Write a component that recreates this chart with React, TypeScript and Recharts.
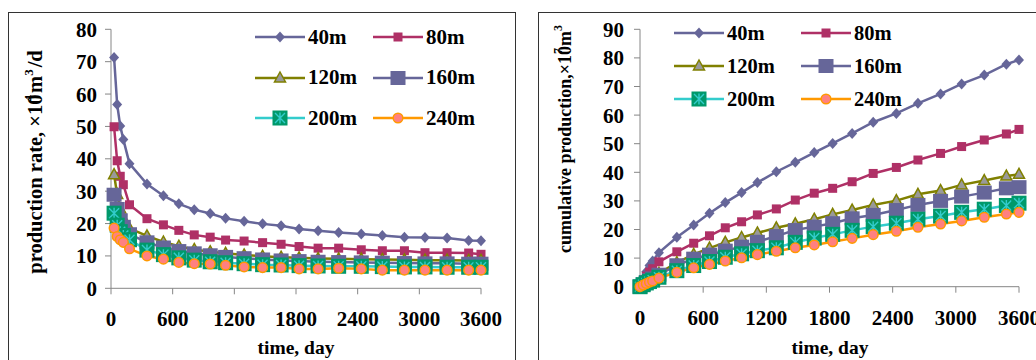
import React from 'react';
import { LineChart, Line, XAxis, YAxis, Legend, Label } from 'recharts';

const FONT = "'Liberation Serif', 'Times New Roman', serif";
const AXIS_GRAY = '#868686';

// time of each rate sample, days
const days = [30, 60, 90, 120, 180, 350, 510, 660, 810, 965, 1115, 1295, 1475, 1655, 1830, 2015, 2215, 2435, 2640, 2855, 3055, 3270, 3480, 3600];
// cumulative curve starts from zero at day 0
const cumDays = [0, 30, 60, 90, 120, 180, 350, 510, 660, 810, 965, 1115, 1295, 1475, 1655, 1830, 2015, 2215, 2435, 2640, 2855, 3055, 3270, 3480, 3600];
const timeTicks = [0, 600, 1200, 1800, 2400, 3000, 3600];
const rateTicks = [0, 10, 20, 30, 40, 50, 60, 70, 80];
const cumTicks = [0, 10, 20, 30, 40, 50, 60, 70, 80, 90];

// production rate, 10^4 m3/d
const rate40 = [71.3, 56.8, 50.1, 46.0, 38.5, 32.2, 28.6, 26.1, 24.3, 23.1, 21.6, 20.7, 19.9, 19.3, 18.3, 17.8, 17.2, 16.8, 16.3, 15.8, 15.7, 15.5, 14.8, 14.7];
const rate80 = [49.9, 39.4, 34.6, 32.0, 25.8, 21.5, 19.6, 17.9, 16.5, 15.8, 14.9, 14.6, 14.1, 13.6, 12.9, 12.4, 12.4, 11.9, 11.6, 11.6, 11.0, 11.0, 10.9, 10.5];
const rate120 = [35.1, 29.0, 24.5, 21.5, 18.5, 16.2, 14.3, 13.0, 12.0, 11.3, 10.8, 10.3, 9.9, 9.6, 9.4, 9.2, 9.1, 9.0, 8.9, 8.8, 8.7, 8.7, 8.6, 8.6];
const rate160 = [28.9, 24.5, 21.0, 19.0, 16.7, 14.2, 12.6, 11.5, 10.8, 10.2, 9.7, 9.3, 8.9, 8.6, 8.4, 8.2, 8.1, 8.0, 7.9, 7.8, 7.7, 7.7, 7.6, 7.6];
const rate200 = [23.2, 19.5, 17.5, 16.3, 15.0, 11.8, 10.4, 9.4, 8.7, 8.2, 7.9, 7.6, 7.3, 7.2, 7.0, 6.9, 6.8, 6.8, 6.7, 6.6, 6.6, 6.5, 6.5, 6.5];
const rate240 = [18.6, 16.0, 15.0, 14.2, 12.2, 10.0, 9.0, 8.0, 7.6, 7.5, 7.1, 6.6, 6.4, 6.4, 6.0, 6.0, 6.2, 6.0, 5.6, 5.6, 5.6, 5.6, 5.6, 5.6];

// cumulative production, 10^7 m3
const cum40 = [0, 2.8, 5.2, 7.4, 9.0, 11.9, 17.3, 21.6, 25.7, 29.4, 32.9, 36.4, 40.2, 43.5, 46.9, 50.1, 53.6, 57.5, 60.6, 64.1, 67.4, 70.9, 74.0, 77.8, 79.3];
const cum80 = [0, 2.0, 3.7, 5.1, 6.3, 8.7, 12.2, 15.2, 17.8, 20.6, 22.7, 25.1, 27.2, 30.3, 32.7, 34.4, 36.7, 39.6, 41.7, 44.3, 46.6, 49.0, 51.3, 53.4, 55.0];
const cum120 = [0, 1.0, 1.9, 2.6, 3.3, 4.7, 8.4, 11.3, 13.5, 15.5, 17.2, 18.8, 20.6, 22.0, 23.6, 25.3, 26.8, 28.6, 30.1, 32.3, 33.6, 35.6, 37.1, 38.7, 39.3];
const cum160 = [0, 0.8, 1.6, 2.3, 2.9, 4.2, 7.5, 9.8, 11.2, 12.6, 14.0, 15.7, 17.7, 19.8, 21.0, 22.2, 23.9, 25.1, 26.8, 28.6, 30.0, 31.5, 32.9, 34.4, 34.8];
const cum200 = [0, 0.7, 1.3, 1.8, 2.3, 3.3, 5.6, 7.4, 8.8, 10.3, 11.5, 12.6, 13.6, 15.5, 17.0, 18.3, 19.7, 21.0, 22.2, 23.6, 24.7, 26.0, 27.1, 28.4, 29.2];
const cum240 = [0, 0.6, 1.1, 1.6, 2.0, 3.0, 5.0, 6.6, 7.8, 9.0, 10.1, 11.2, 12.4, 13.6, 14.6, 15.7, 16.9, 18.2, 19.4, 20.8, 21.9, 23.0, 24.3, 25.4, 26.0];

type Shape = 'diamond' | 'square' | 'triangle' | 'bigSquare' | 'star' | 'circle';

const series: { key: string; name: string; color: string; shape: Shape }[] = [
  { key: 's40', name: '40m', color: '#666699', shape: 'diamond' },
  { key: 's80', name: '80m', color: '#AF3066', shape: 'square' },
  { key: 's120', name: '120m', color: '#808000', shape: 'triangle' },
  { key: 's160', name: '160m', color: '#666699', shape: 'bigSquare' },
  { key: 's200', name: '200m', color: '#33CCCC', shape: 'star' },
  { key: 's240', name: '240m', color: '#FF9900', shape: 'circle' },
];

const rateData = days.map((day, i) => ({
  day,
  s40: rate40[i],
  s80: rate80[i],
  s120: rate120[i],
  s160: rate160[i],
  s200: rate200[i],
  s240: rate240[i],
}));

const cumData = cumDays.map((day, i) => ({
  day,
  s40: cum40[i],
  s80: cum80[i],
  s120: cum120[i],
  s160: cum160[i],
  s200: cum200[i],
  s240: cum240[i],
}));

function Marker({ shape, x, y }: { shape: Shape; x: number; y: number }) {
  switch (shape) {
    case 'diamond':
      return <polygon points={`${x},${y - 5.5} ${x + 5},${y} ${x},${y + 5.5} ${x - 5},${y}`} fill="#666699" />;
    case 'square':
      return <rect x={x - 4.5} y={y - 4.5} width={9} height={9} fill="#AF3066" />;
    case 'triangle':
      return (
        <polygon
          points={`${x},${y - 6} ${x + 5.5},${y + 4} ${x - 5.5},${y + 4}`}
          fill="#999999"
          stroke="#808000"
          strokeWidth={1.5}
        />
      );
    case 'bigSquare':
      return <rect x={x - 7.5} y={y - 7} width={15} height={14} fill="#666699" />;
    case 'star':
      return (
        <g>
          <rect x={x - 7.5} y={y - 7.5} width={15} height={15} fill="#00996B" />
          <path
            d={`M${x} ${y - 5.5}V${y + 5.5}M${x - 5} ${y - 5}L${x + 5} ${y + 5}M${x + 5} ${y - 5}L${x - 5} ${y + 5}`}
            stroke="#33CCCC"
            strokeWidth={1.4}
          />
        </g>
      );
    default:
      return <circle cx={x} cy={y} r={4.8} fill="#FF8080" stroke="#FF9900" strokeWidth={1.5} />;
  }
}

const dotFor = (shape: Shape) => (p: any) => (
  <g key={`${shape}-${p.index}`}>
    <Marker shape={shape} x={p.cx} y={p.cy} />
  </g>
);

function LegendGrid({ colWidth, rowHeight, fontSize }: { colWidth: number; rowHeight: number; fontSize: number }) {
  return (
    <div style={{ display: 'grid', gridTemplateColumns: `${colWidth}px ${colWidth}px` }}>
      {series.map((s) => (
        <div key={s.key} style={{ display: 'flex', alignItems: 'center', height: rowHeight }}>
          <svg width={50} height={20} style={{ overflow: 'visible' }}>
            <line x1={0} y1={10} x2={50} y2={10} stroke={s.color} strokeWidth={2.5} />
            <Marker shape={s.shape} x={25} y={10} />
          </svg>
          <span style={{ marginLeft: 3, fontFamily: FONT, fontWeight: 'bold', fontSize, color: '#000', lineHeight: 1 }}>
            {s.name}
          </span>
        </div>
      ))}
    </div>
  );
}

const tickStyle = { fontSize: 21, fontWeight: 'bold', fill: '#000', fontFamily: FONT };

function renderLines() {
  return series.map((s) => (
    <Line
      key={s.key}
      type="linear"
      dataKey={s.key}
      name={s.name}
      stroke={s.color}
      strokeWidth={2.5}
      dot={dotFor(s.shape)}
      activeDot={false}
      isAnimationActive={false}
    />
  ));
}

const timeLabel = (centerX: number) => () => (
  <text x={centerX} y={354} textAnchor="middle" fontFamily={FONT} fontWeight="bold" fontSize={19.5} fill="#000">
    time, day
  </text>
);

export default function App() {
  return (
    <div
      style={{
        position: 'absolute',
        left: 0,
        top: 0,
        width: 1036,
        height: 360,
        overflow: 'hidden',
        background: '#fff',
      }}
    >
      <div style={{ position: 'absolute', left: 8, top: 12, width: 508, height: 400, border: '1.5px solid #333', boxSizing: 'border-box' }} />
      <div style={{ position: 'absolute', left: 538, top: 12, width: 600, height: 400, border: '1.5px solid #333', boxSizing: 'border-box' }} />

      {/* production rate */}
      <div style={{ position: 'absolute', left: 0, top: 0 }}>
        <LineChart width={515} height={360} data={rateData} margin={{ top: 29.3, right: 34, bottom: 1.7, left: 51 }}>
          <XAxis
            type="number"
            dataKey="day"
            domain={[0, 3600]}
            ticks={timeTicks}
            interval={0}
            height={70}
            tickSize={6}
            tickMargin={17}
            stroke={AXIS_GRAY}
            tick={tickStyle}
          >
            <Label content={timeLabel(296)} />
          </XAxis>
          <YAxis
            type="number"
            domain={[0, 80]}
            ticks={rateTicks}
            interval={0}
            width={60}
            tickSize={6}
            tickMargin={8}
            stroke={AXIS_GRAY}
            tick={tickStyle}
          >
            <Label
              content={() => (
                <text transform="rotate(-90)" x={-162} y={41.5} textAnchor="middle" fontFamily={FONT} fontWeight="bold" fontSize={20.5} fill="#000">
                  <tspan>production rate, ×10</tspan>
                  <tspan dx={-7} dy={-9} fontSize={13}>4</tspan>
                  <tspan dx={2} dy={9}>m</tspan>
                  <tspan dy={-9} fontSize={13}>3</tspan>
                  <tspan dx={2} dy={9}>/d</tspan>
                </text>
              )}
            />
          </YAxis>
          <Legend
            layout="horizontal"
            verticalAlign="middle"
            align="center"
            width={240}
            wrapperStyle={{ left: 255, top: 16.75 }}
            content={() => <LegendGrid colWidth={118} rowHeight={40.5} fontSize={21} />}
          />
          {renderLines()}
        </LineChart>
      </div>

      {/* cumulative production */}
      <div style={{ position: 'absolute', left: 538, top: 0 }}>
        <LineChart width={540} height={360} data={cumData} margin={{ top: 29.3, right: 59, bottom: 3.3, left: 42 }}>
          <XAxis
            type="number"
            dataKey="day"
            domain={[0, 3600]}
            ticks={timeTicks}
            interval={0}
            height={70}
            tickSize={6}
            tickMargin={17}
            stroke={AXIS_GRAY}
            tick={tickStyle}
          >
            <Label content={timeLabel(292)} />
          </XAxis>
          <YAxis
            type="number"
            domain={[0, 90]}
            ticks={cumTicks}
            interval={0}
            width={60}
            tickSize={6}
            tickMargin={10}
            stroke={AXIS_GRAY}
            tick={tickStyle}
          >
            <Label
              content={() => (
                <text transform="rotate(-90)" x={-139} y={33} textAnchor="middle" fontFamily={FONT} fontWeight="bold" fontSize={18} fill="#000">
                  <tspan>cumulative production,×10</tspan>
                  <tspan dx={-8} dy={-9} fontSize={12}>7</tspan>
                  <tspan dx={2} dy={9}>m</tspan>
                  <tspan dy={-9} fontSize={12}>3</tspan>
                </text>
              )}
            />
          </YAxis>
          <Legend
            layout="horizontal"
            verticalAlign="middle"
            align="center"
            width={260}
            wrapperStyle={{ left: 136, top: 16.5 }}
            content={() => <LegendGrid colWidth={127} rowHeight={33} fontSize={20.5} />}
          />
          {renderLines()}
        </LineChart>
      </div>
    </div>
  );
}
